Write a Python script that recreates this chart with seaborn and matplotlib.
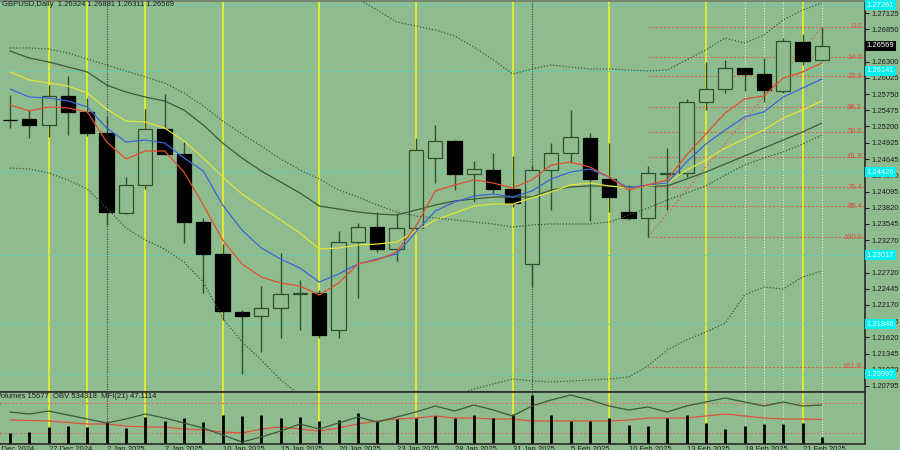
import numpy as np
import pandas as pd
import matplotlib
matplotlib.use("Agg")
import matplotlib.pyplot as plt
import matplotlib.transforms as mtransforms
import seaborn as sns

# GBPUSD daily candles
days = ["24 Dec", "26 Dec", "27 Dec", "30 Dec", "31 Dec", "2 Jan", "3 Jan", "6 Jan", "7 Jan", "8 Jan",
        "9 Jan", "10 Jan", "13 Jan", "14 Jan", "15 Jan", "16 Jan", "17 Jan", "20 Jan", "21 Jan", "22 Jan",
        "23 Jan", "24 Jan", "27 Jan", "28 Jan", "29 Jan", "30 Jan", "31 Jan", "3 Feb", "4 Feb", "5 Feb",
        "6 Feb", "7 Feb", "10 Feb", "11 Feb", "12 Feb", "13 Feb", "14 Feb", "17 Feb", "18 Feb", "19 Feb",
        "20 Feb", "21 Feb", "24 Feb"]

opens = [1.25315, 1.25326, 1.25224, 1.25716, 1.25445, 1.25088, 1.23730, 1.24206, 1.25156, 1.24732,
         1.23578, 1.23034, 1.22050, 1.21982, 1.22118, 1.22360, 1.22372, 1.21744, 1.23238, 1.23493,
         1.23119, 1.23476, 1.24664, 1.24953, 1.24392, 1.24460, 1.24138, 1.22865, 1.24460, 1.24749,
         1.25003, 1.24308, 1.23747, 1.23645, 1.24392, 1.24409, 1.25615, 1.25835, 1.26192, 1.26090,
         1.25801, 1.26633, 1.26324]
highs = [1.25733, 1.25479, 1.25903, 1.26056, 1.25682, 1.25377, 1.24341, 1.25496, 1.25750, 1.24936,
         1.23645, 1.23204, 1.22084, 1.22491, 1.23051, 1.22593, 1.22423, 1.23425, 1.23561, 1.23747,
         1.23730, 1.25003, 1.25224, 1.24970, 1.24613, 1.24749, 1.24698, 1.24545, 1.24919, 1.25479,
         1.25088, 1.24919, 1.24206, 1.24528, 1.24834, 1.25666, 1.26294, 1.26328, 1.26209, 1.26361,
         1.26701, 1.26769, 1.26891]
lows = [1.25173, 1.25003, 1.25020, 1.25054, 1.25037, 1.23527, 1.23713, 1.24138, 1.24715, 1.23221,
        1.22372, 1.21914, 1.20997, 1.21371, 1.21608, 1.21744, 1.21608, 1.21608, 1.22287, 1.23068,
        1.22916, 1.23440, 1.24240, 1.24121, 1.23917, 1.24070, 1.23832, 1.22474, 1.23781, 1.24579,
        1.23595, 1.23747, 1.23612, 1.23323, 1.23781, 1.24341, 1.25479, 1.25767, 1.25801, 1.25615,
        1.25767, 1.26243, 1.26311]
closes = [1.25305, 1.25224, 1.25716, 1.25445, 1.25088, 1.23747, 1.24206, 1.25156, 1.24732, 1.23578,
          1.23034, 1.22067, 1.21982, 1.22118, 1.22355, 1.22368, 1.21659, 1.23238, 1.23493, 1.23119,
          1.23476, 1.24800, 1.24953, 1.24392, 1.24477, 1.24138, 1.23900, 1.24460, 1.24749, 1.25020,
          1.24308, 1.24002, 1.23645, 1.24409, 1.24409, 1.25615, 1.25835, 1.26192, 1.26090, 1.25818,
          1.26650, 1.26311, 1.26569]

# moving averages / envelopes
ma_red = [1.25564, 1.25462, 1.25530, 1.25513, 1.25445, 1.24936, 1.24647, 1.24783, 1.24783, 1.24426,
          1.23866, 1.23272, 1.22865, 1.22644, 1.22542, 1.22491, 1.22338, 1.22542, 1.22865, 1.22933,
          1.23068, 1.23510, 1.24104, 1.24206, 1.24291, 1.24240, 1.24155, 1.24291, 1.24545, 1.24596,
          1.24511, 1.24341, 1.24121, 1.24206, 1.24291, 1.24715, 1.25071, 1.25428, 1.25666, 1.25716,
          1.26022, 1.26124, 1.26277]
ma_blue = [1.25835, 1.25699, 1.25682, 1.25632, 1.25530, 1.25173, 1.24936, 1.24969, 1.24919, 1.24664,
           1.24443, 1.23866, 1.23442, 1.23136, 1.22950, 1.22797, 1.22559, 1.22695, 1.22865, 1.22950,
           1.23034, 1.23408, 1.23764, 1.23917, 1.24019, 1.24053, 1.24002, 1.24104, 1.24308, 1.24426,
           1.24477, 1.24341, 1.24155, 1.24206, 1.24240, 1.24596, 1.24902, 1.25139, 1.25360, 1.25445,
           1.25699, 1.25852, 1.26005]
ma_yellow = [1.26124, 1.25988, 1.25937, 1.25886, 1.25767, 1.25496, 1.25292, 1.25275, 1.25173, 1.24953,
             1.24664, 1.24341, 1.24053, 1.23832, 1.23612, 1.23391, 1.23119, 1.23136, 1.23187, 1.23204,
             1.23238, 1.23425, 1.23612, 1.23730, 1.23849, 1.23883, 1.23883, 1.23985, 1.24087, 1.24206,
             1.24240, 1.24189, 1.24155, 1.24189, 1.24240, 1.24460, 1.24630, 1.24834, 1.24986, 1.25139,
             1.25343, 1.25479, 1.25632]
ma_slow = [1.26480, 1.26361, 1.26294, 1.26209, 1.26124, 1.25903, 1.25784, 1.25699, 1.25632, 1.25479,
           1.25224, 1.24919, 1.24664, 1.24443, 1.24257, 1.24070, 1.23849, 1.23798, 1.23747, 1.23713,
           1.23696, 1.23781, 1.23866, 1.23934, 1.23968, 1.24002, 1.24002, 1.24002, 1.24121, 1.24172,
           1.24189, 1.24189, 1.24172, 1.24189, 1.24189, 1.24308, 1.24426, 1.24562, 1.24698, 1.24834,
           1.24969, 1.25105, 1.25258]
env_mid = [1.26531, 1.26531, 1.26514, 1.26446, 1.26345, 1.26243, 1.26141, 1.26039, 1.25937, 1.25767,
           1.25547, 1.25292, 1.25071, 1.24868, 1.24647, 1.24460, 1.24308, 1.24121, 1.24002, 1.23866,
           1.23747, 1.23679, 1.23645, 1.23612, 1.23578, 1.23544, 1.23493, 1.23527, 1.23544, 1.23544,
           1.23544, 1.23578, 1.23696, 1.23815, 1.23951, 1.24070, 1.24189, 1.24375, 1.24545, 1.24664,
           1.24766, 1.24902, 1.25054]
band_up = [np.nan] * 16 + [1.27770, 1.27550, 1.27363, 1.27176, 1.26973, 1.26905, 1.26837, 1.26735,
                           1.26548, 1.26328, 1.26090, 1.26175, 1.26243, 1.26209, 1.26175, 1.26175,
                           1.26158, 1.26141, 1.26158, 1.26328, 1.26497, 1.26701, 1.26616, 1.26752,
                           1.27007, 1.27176, 1.27295]
band_dn = [1.24494, 1.24477, 1.24409, 1.24291, 1.24138, 1.23815, 1.23476, 1.23272, 1.23119, 1.22899,
           1.22559, 1.21948, 1.21541, 1.21235, 1.20896, 1.20641, 1.20471, 1.20352, 1.20318, 1.20352,
           1.20454, 1.20522, 1.20590, 1.20624, 1.20743, 1.20828, 1.20913, 1.20879, 1.20862, 1.20879,
           1.20896, 1.20913, 1.20946, 1.21133, 1.21405, 1.21575, 1.21710, 1.21863, 1.22338, 1.22474,
           1.22440, 1.22644, 1.22746]

# lower window: volumes, OBV, MFI(21)
volumes = [27050, 28890, 42020, 44640, 42020, 55150, 39390, 68280, 57770, 65650,
           55150, 73530, 70900, 73530, 65650, 68280, 57770, 60400, 78780, 57770,
           63020, 65650, 70900, 65650, 73530, 65650, 76150, 126041, 73530, 57770,
           57770, 65650, 47270, 44640, 65650, 73530, 52520, 36760, 44640, 49890,
           49890, 52520, 15677]
obv = [457318, 435318, 468318, 424318, 380318, 336318, 380318, 435318, 391318, 336318,
       281318, 204318, 127318, 182318, 248318, 325318, 270318, 336318, 402318, 347318,
       402318, 457318, 523318, 468318, 534318, 479318, 413318, 523318, 589318, 644318,
       589318, 523318, 479318, 512318, 457318, 523318, 567318, 611318, 567318, 523318,
       567318, 523318, 534318]
mfi = [46, 45, 44, 41, 38, 38, 34, 32, 32, 28, 26, 22, 20, 28, 32, 28, 24, 30, 38, 44,
       48, 50, 54, 50, 50, 48, 48, 44, 44, 44, 44, 44, 46, 50, 50, 50, 54, 58, 54, 50,
       48, 48, 47.11]

# fibonacci grid (11 Feb low -> 24 Feb high)
fib_names = ["0.0", "14.6", "23.6", "38.2", "50.0", "61.8", "76.4", "85.4", "100.0", "161.8"]
fib_prices = [1.26891, 1.26370, 1.26049, 1.25528, 1.25107, 1.24686, 1.24165, 1.23844, 1.23323, 1.21118]

cyan_levels = [1.27261, 1.26141, 1.24426, 1.23017, 1.21846, 1.20997]

price_ticks = [1.27125, 1.26850, 1.26300, 1.26025, 1.25750, 1.25475, 1.25200, 1.24925, 1.24645, 1.24370,
               1.24095, 1.23820, 1.23545, 1.23270, 1.22720, 1.22445, 1.22170, 1.21895, 1.21620, 1.21345,
               1.21070, 1.20795]

date_pos = [-1, 2, 5, 8, 11, 14, 17, 20, 23, 26, 29, 32, 35, 38, 41]
date_labels = ["23 Dec 2024", "27 Dec 2024", "2 Jan 2025", "7 Jan 2025", "10 Jan 2025", "15 Jan 2025",
               "20 Jan 2025", "23 Jan 2025", "28 Jan 2025", "31 Jan 2025", "5 Feb 2025", "10 Feb 2025",
               "13 Feb 2025", "18 Feb 2025", "21 Feb 2025"]

yellow_days = [2, 4, 7, 11, 16, 21, 26, 31, 36, 41]
month_days = [5, 27]
white_days = [38, 39, 40, 42]

bg = "#8FBC8F"
dark = "#2F4F2F"
sns.set_theme(style="white", rc={"axes.facecolor": bg, "figure.facecolor": bg,
                                 "savefig.facecolor": bg})
plt.rcParams["font.family"] = ["Liberation Sans", "DejaVu Sans"]
fs = 5.5
txt = "#1E1E1E"

fig = plt.figure(figsize=(9, 4.5), dpi=100)
ax = fig.add_axes([0, 58 / 450, 865 / 900, 391 / 450])
axb = fig.add_axes([0, 6 / 450, 865 / 900, 52 / 450], sharex=ax)

x = np.arange(len(days))
o = np.array(opens)
c = np.array(closes)
up = c >= o
lo_b = np.minimum(o, c)
h_b = np.maximum(np.abs(c - o), 0.00003)

# vertical separators through both windows
for a in (ax, axb):
    for d in yellow_days:
        a.axvline(d, color="#E8EE2A", lw=1.3, zorder=1)
    for d in month_days:
        a.axvline(d, color="#4A4A4A", lw=0.9, ls=(0, (1, 1)), zorder=1)
    for d in white_days:
        a.axvline(d, color="#E6EDE6", lw=0.8, ls=(0, (1, 1.5)), zorder=1)

# cyan levels
for p in cyan_levels:
    ax.axhline(p, color="#3FE0D8", lw=0.7, ls=(0, (2, 3)), zorder=1)

# fibo
ax.hlines(fib_prices, 33, 44.4, colors="#E0604A", lw=0.7, linestyles=(0, (2, 2)), zorder=2)
ax.plot([33, 42], [lows[33], highs[42]], color="#E0604A", lw=0.8, ls=(0, (1.5, 2)), zorder=2)
tr = mtransforms.blended_transform_factory(ax.transAxes, ax.transData)
for name, p in zip(fib_names, fib_prices):
    ax.text(862 / 865, p, name, transform=tr, ha="right", va="center", fontsize=fs,
            color="#E04A3A", zorder=6)

# candles
ax.vlines(x, lows, highs, color=dark, lw=1, zorder=3)
ax.bar(x[up], h_b[up], bottom=lo_b[up], width=0.74, color=bg, edgecolor=dark, linewidth=0.9, zorder=4)
ax.bar(x[~up], h_b[~up], bottom=lo_b[~up], width=0.74, color="black", edgecolor="black",
       linewidth=0.9, zorder=4)

lines = pd.DataFrame({"x": x, "red": ma_red, "blue": ma_blue, "yellow": ma_yellow, "slow": ma_slow,
                      "mid": env_mid, "up": band_up, "dn": band_dn})
sns.lineplot(data=lines, x="x", y="slow", ax=ax, color="#3B5A3B", lw=0.9, legend=False, zorder=5)
sns.lineplot(data=lines, x="x", y="yellow", ax=ax, color="#E3E33A", lw=0.9, legend=False, zorder=5)
sns.lineplot(data=lines, x="x", y="blue", ax=ax, color="#3A66D6", lw=0.9, legend=False, zorder=5)
sns.lineplot(data=lines, x="x", y="red", ax=ax, color="#E0502E", lw=0.9, legend=False, zorder=5)
for col in ("mid", "up", "dn"):
    sns.lineplot(data=lines, x="x", y=col, ax=ax, color="#3B5A3B", lw=0.9, ls=(0, (1, 1.5)),
                 legend=False, zorder=5)

ax.set_xlim(-0.517, 44.232)
ax.set_ylim(1.20692, 1.27329)
ax.yaxis.tick_right()
ax.set_yticks(price_ticks)
ax.set_yticklabels([f"{p:.5f}" for p in price_ticks])
ax.tick_params(axis="y", length=3, width=0.8, pad=1.5, labelsize=fs, colors=txt)
ax.tick_params(axis="x", bottom=False, labelbottom=False)
ax.set_xlabel("")
ax.set_ylabel("")
ax.spines["left"].set_visible(False)
ax.spines["right"].set_color("#2B2B2B")
ax.spines["bottom"].set_color("#2B2B2B")
ax.spines["bottom"].set_linewidth(1.2)
ax.spines["top"].set_color("#6E7E6E")

ax.text(2 / 865, 0.99, "GBPUSD,Daily  1.26324 1.26891 1.26311 1.26569", transform=ax.transAxes,
        ha="left", va="center", fontsize=fs, color=txt)

for p in cyan_levels:
    ax.text(1.002, p, f"{p:.5f}", transform=tr, ha="left", va="center", fontsize=fs, color="#F4FFFF",
            clip_on=False, zorder=10, bbox=dict(boxstyle="square,pad=0.2", fc="#00F0F0", ec="none"))
ax.text(1.002, closes[-1], f"{closes[-1]:.5f}", transform=tr, ha="left", va="center", fontsize=fs,
        color="white", clip_on=False, zorder=10,
        bbox=dict(boxstyle="square,pad=0.2", fc="black", ec="none"))

# lower window
axb.axhline(80, color="#E06A5A", lw=0.7, ls=(0, (2, 2)), zorder=1)
axb.axhline(20, color="#E06A5A", lw=0.7, ls=(0, (2, 2)), zorder=1)
sns.lineplot(x=x, y=mfi, ax=axb, color="#E0503A", lw=0.9, legend=False, zorder=4)
axb.set_ylim(-2, 102)
axb.yaxis.tick_right()
axb.set_yticks([96, 80, 20, 0])
axb.set_yticklabels(["126041", "80", "20", "0"])
axb.tick_params(axis="y", length=3, width=0.8, pad=1.5, labelsize=fs, colors=txt)
axb.tick_params(axis="x", bottom=False, labelbottom=False)
axb.spines["left"].set_visible(False)
for side in ("top", "bottom", "right"):
    axb.spines[side].set_color("#2B2B2B")
axb.spines["top"].set_linewidth(1.2)

axv = axb.twinx()
axv.vlines(x, 0, volumes, color="black", lw=2, zorder=3)
axv.set_ylim(-2626, 133926)
axv.set_axis_off()

axo = axb.twinx()
sns.lineplot(x=x, y=obv, ax=axo, color="#3B5A3B", lw=0.9, legend=False)
axo.set_ylim(105318, 677318)
axo.set_axis_off()

axb.text(-4 / 865, 0.92, "Volumes 15677  OBV 534318  MFI(21) 47.1114", transform=axb.transAxes,
         ha="left", va="center", fontsize=fs, color=txt)

trb = mtransforms.blended_transform_factory(axb.transData, axb.transAxes)
for p, lab in zip(date_pos, date_labels):
    axb.text(p, -0.03, lab, transform=trb, ha="left", va="top", fontsize=fs, color=txt,
             clip_on=False)

fig.savefig("out.png", dpi=100)
